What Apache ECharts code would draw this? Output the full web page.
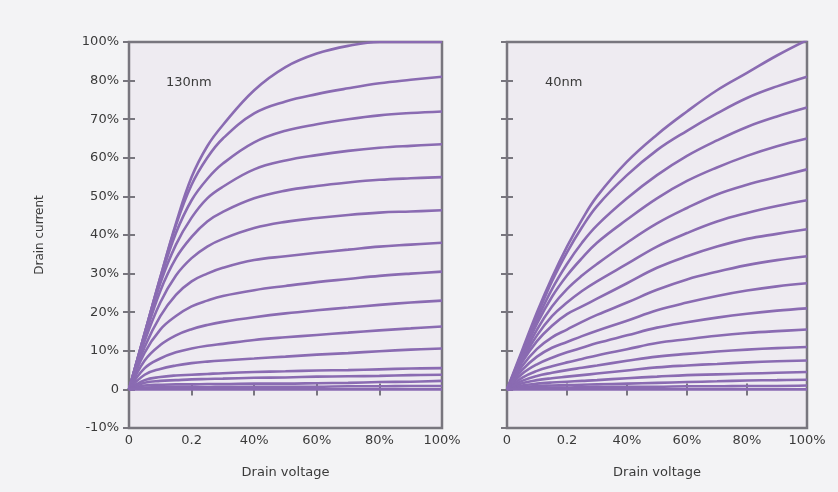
<!DOCTYPE html>
<html>
<head>
<meta charset="utf-8">
<script src="https://cdn.jsdelivr.net/npm/echarts@6/dist/echarts.min.js"></script>
<style>
html,body{margin:0;padding:0;background:#f3f3f5;}
#chart{width:838px;height:492px;}
</style>
</head>
<body>
<div id="chart"></div>
<script>
// Drain voltage sample points (% of full scale)
var voltage = [0, 5, 10, 15, 20, 25, 30, 40, 50, 60, 70, 80, 90, 100];

// X tick labels (as printed on the original)
var xTickValues = [0, 20, 40, 60, 80, 100];
var xTickLabels = ['0', '0.2', '40%', '60%', '80%', '100%'];

// Y tick labels (the top tick is printed as 100%)
var yTickValues = [-10, 0, 10, 20, 30, 40, 50, 60, 70, 80, 90];
var yTickLabels = ['-10%', '0', '10%', '20%', '30%', '40%', '50%', '60%', '70%', '80%', '100%'];

// 130nm drain current curves (one per gate voltage), axis units
var curves130nm = [
  [0, 14.5, 29, 43, 55, 63, 68.5, 77.5, 83.5, 87, 89, 90, 90, 90],
  [0, 14.5, 29, 42.5, 53, 60, 65, 71.5, 74.6, 76.5, 78, 79.3, 80.2, 81],
  [0, 14.5, 28.5, 40.5, 49, 54.5, 58.5, 64, 67, 68.7, 70, 71, 71.6, 72],
  [0, 14, 27.5, 37.5, 44.5, 49.5, 52.5, 57, 59.3, 60.7, 61.8, 62.6, 63.1, 63.5],
  [0, 13.5, 25.5, 34, 39.5, 43.5, 46, 49.5, 51.5, 52.7, 53.6, 54.3, 54.7, 55],
  [0, 12.5, 22.5, 29.5, 34, 37, 39, 41.8, 43.4, 44.4, 45.2, 45.8, 46.1, 46.4],
  [0, 11, 19, 24.5, 28, 30, 31.5, 33.5, 34.5, 35.4, 36.2, 37, 37.5, 38],
  [0, 9.5, 15.5, 19, 21.5, 23, 24.2, 25.7, 26.8, 27.8, 28.6, 29.4, 30, 30.5],
  [0, 7.5, 11.5, 14, 15.6, 16.7, 17.5, 18.7, 19.7, 20.5, 21.2, 21.9, 22.5, 23],
  [0, 5.5, 8, 9.6, 10.6, 11.3, 11.8, 12.8, 13.5, 14.1, 14.7, 15.3, 15.8, 16.3],
  [0, 3.8, 5.3, 6.2, 6.8, 7.2, 7.5, 8, 8.5, 9, 9.4, 9.9, 10.3, 10.6],
  [0, 2.4, 3.2, 3.6, 3.8, 4, 4.2, 4.5, 4.7, 4.9, 5, 5.2, 5.4, 5.5],
  [0, 1.7, 2.2, 2.4, 2.6, 2.7, 2.8, 3, 3.1, 3.3, 3.4, 3.5, 3.7, 3.8],
  [0, 1, 1.2, 1.3, 1.3, 1.4, 1.4, 1.5, 1.5, 1.6, 1.7, 1.9, 2, 2.2],
  [0, 0.5, 0.6, 0.6, 0.6, 0.6, 0.7, 0.7, 0.7, 0.7, 0.8, 0.8, 0.9, 0.9],
  [0, 0, 0, 0, 0, 0, 0, 0, 0, 0, 0, 0, 0, 0]
];

// 40nm drain current curves
var curves40nm = [
  [0, 10, 20, 29, 37, 44, 50, 59, 66, 72, 77.5, 82, 86.5, 90.5],
  [0, 9.5, 19, 28, 35.5, 42, 47.5, 55.5, 62, 67, 71.5, 75.5, 78.5, 81],
  [0, 9, 18, 26, 32.5, 38, 42.5, 49.5, 55.5, 60.5, 64.5, 68, 70.7, 73],
  [0, 8.5, 17, 24, 29.5, 34, 38, 44, 49.5, 54, 57.5, 60.5, 63, 65],
  [0, 8, 15.5, 21.5, 26, 29.5, 32.5, 38, 43, 47, 50.5, 53, 55, 57],
  [0, 7.5, 14, 19, 22.5, 25.5, 28, 32.5, 37, 40.5, 43.5, 45.7, 47.5, 49],
  [0, 7, 12.5, 16.5, 19.5, 21.5, 23.5, 27.5, 31.5, 34.5, 37, 39, 40.3, 41.5],
  [0, 6, 10.5, 13.5, 15.5, 17.5, 19.3, 22.5, 25.8, 28.5, 30.5, 32.2, 33.5, 34.5],
  [0, 5, 8.5, 10.8, 12.3, 13.8, 15.2, 17.8, 20.5, 22.5, 24.2, 25.6, 26.7, 27.5],
  [0, 4, 6.5, 8.2, 9.6, 10.8, 12, 14, 16, 17.4, 18.6, 19.6, 20.4, 21],
  [0, 3, 4.8, 6, 7, 7.9, 8.8, 10.4, 12, 13, 13.9, 14.6, 15.1, 15.5],
  [0, 2.2, 3.5, 4.3, 5, 5.6, 6.2, 7.4, 8.5, 9.2, 9.8, 10.3, 10.7, 11],
  [0, 1.6, 2.4, 2.9, 3.3, 3.7, 4.1, 4.9, 5.7, 6.2, 6.6, 7, 7.3, 7.5],
  [0, 1, 1.5, 1.8, 2, 2.2, 2.4, 2.9, 3.3, 3.7, 3.9, 4.1, 4.3, 4.5],
  [0, 0.6, 0.9, 1, 1.1, 1.2, 1.3, 1.5, 1.7, 1.9, 2.1, 2.3, 2.4, 2.5],
  [0, 0.3, 0.4, 0.5, 0.5, 0.6, 0.6, 0.7, 0.7, 0.8, 0.8, 0.9, 0.9, 1],
  [0, 0, 0, 0, 0, 0, 0, 0, 0, 0, 0, 0, 0, 0]
];

var panelLabels = ['130nm', '40nm'];
var axisTitles = { x: 'Drain voltage', y: 'Drain current' };

var lineColor = '#8a6bb2';
var frameColor = '#78767e';
var textColor = '#3a3a3a';
var fontFamily = 'DejaVu Sans, sans-serif';

function xLabel(v) {
  var i = xTickValues.indexOf(v);
  return i >= 0 ? xTickLabels[i] : '';
}
function yLabel(v) {
  var i = yTickValues.indexOf(Math.round(v));
  return i >= 0 ? yTickLabels[i] : '';
}

var grids = [
  { left: 129, top: 42, width: 313, height: 386 },
  { left: 507, top: 42, width: 300, height: 386 }
];

var xAxes = [], yAxes = [], series = [];
grids.forEach(function (g, gi) {
  g.show = true;
  g.backgroundColor = '#eeebf1';
  g.borderColor = frameColor;
  g.borderWidth = 2.5;
  var tick = { show: true, inside: true, length: 6, lineStyle: { color: frameColor, width: 2 } };
  xAxes.push({
    type: 'value', gridIndex: gi, position: 'bottom', min: 0, max: 100, interval: 20,
    axisLine: { show: false }, axisTick: tick, splitLine: { show: false },
    axisLabel: { formatter: xLabel, color: textColor, fontSize: 13, fontFamily: fontFamily, margin: 6 },
    name: axisTitles.x, nameLocation: 'middle', nameGap: 38,
    nameTextStyle: { color: textColor, fontSize: 13, fontFamily: fontFamily }
  });
  xAxes.push({
    type: 'value', gridIndex: gi, position: 'top', min: 0, max: 100, interval: 20,
    axisLine: { show: false }, axisTick: tick, splitLine: { show: false },
    axisLabel: { show: false }
  });
  yAxes.push({
    type: 'value', gridIndex: gi, position: 'left', min: -10, max: 90, interval: 10,
    axisLine: { show: false }, axisTick: tick, splitLine: { show: false },
    axisLabel: { show: gi === 0, formatter: yLabel, color: textColor, fontSize: 13, fontFamily: fontFamily, margin: 10 },
    name: gi === 0 ? axisTitles.y : '', nameLocation: 'middle', nameGap: 83,
    nameTextStyle: { color: textColor, fontSize: 12, fontFamily: fontFamily }
  });
  yAxes.push({
    type: 'value', gridIndex: gi, position: 'right', min: -10, max: 90, interval: 10,
    axisLine: { show: false }, axisTick: tick, splitLine: { show: false },
    axisLabel: { show: false }
  });
  var curves = gi === 0 ? curves130nm : curves40nm;
  curves.forEach(function (c) {
    series.push({
      type: 'line', xAxisIndex: gi * 2, yAxisIndex: gi * 2,
      data: voltage.map(function (v, i) { return [v, c[i]]; }),
      smooth: 0.4, showSymbol: false, symbol: 'none',
      clip: true, silent: true,
      lineStyle: { color: lineColor, width: 2.6 }
    });
  });
});

var chart = echarts.init(document.getElementById('chart'), null, { renderer: 'canvas' });
chart.setOption({
  backgroundColor: '#f3f3f5',
  animation: false,
  grid: grids,
  xAxis: xAxes,
  yAxis: yAxes,
  series: series,
  graphic: [
    { type: 'text', left: 166, top: 76, style: { text: panelLabels[0], fill: textColor, font: '13px ' + fontFamily } },
    { type: 'text', left: 545, top: 76, style: { text: panelLabels[1], fill: textColor, font: '13px ' + fontFamily } }
  ]
});
</script>
</body>
</html>
